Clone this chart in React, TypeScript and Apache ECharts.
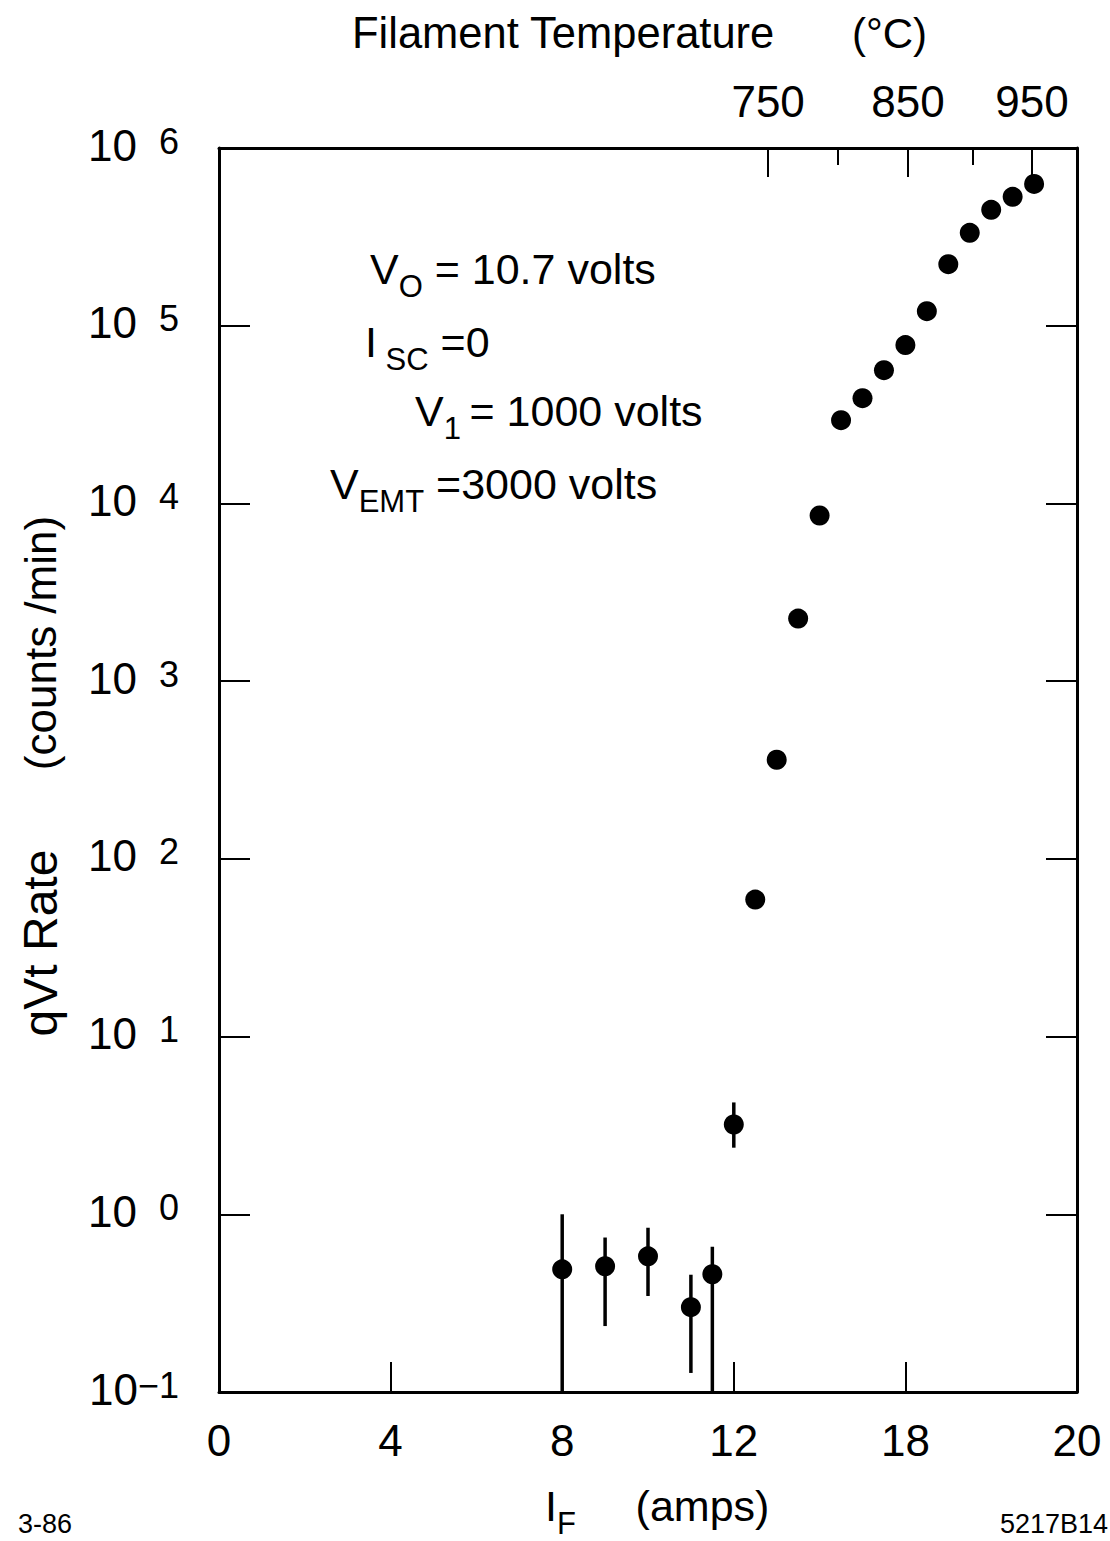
import React, { useEffect, useRef } from 'react';
import * as echarts from 'echarts';

// ---- data ----
const currentAmps = [8, 9, 10, 11, 11.5, 12, 12.5, 13, 13.5, 14, 14.5, 15, 15.5, 16, 16.5, 17, 17.5, 18, 18.5, 19];
const rateCountsPerMin = [0.49, 0.51, 0.58, 0.3, 0.46, 3.2, 59, 361, 2250, 8550, 29400, 39100, 56200, 77800, 120800, 222000, 333000, 449000, 531000, 628000];

const errAmps = [8, 9, 10, 11, 11.5, 12];
const errLow = [0.1, 0.235, 0.347, 0.128, 0.1, 2.37];
const errHigh = [1.0, 0.74, 0.84, 0.457, 0.656, 4.26];

const xTickValues = [0, 4, 8, 12, 16, 20];
const xTickLabels = ['0', '4', '8', '12', '18', '20'];

const tempMajorAmps = [12.8, 16.06, 18.95];
const tempMajorLabels = ['750', '850', '950'];
const tempMinorAmps = [14.43, 17.58];

const FONT = "'Liberation Sans', Arial, sans-serif";
const BLACK = '#000000';

function findIdx(arr: number[], v: number) {
  return arr.findIndex((a) => Math.abs(a - v) < 1e-6);
}

export default function App() {
  const ref = useRef<HTMLDivElement>(null);

  useEffect(() => {
    const chart = echarts.init(ref.current!, null, { renderer: 'svg' });

    const mainTok = { fontSize: 43, fontFamily: FONT, fill: BLACK, lineHeight: 46, verticalAlign: 'top' };
    const subTok = { fontSize: 31, fontFamily: FONT, fill: BLACK, lineHeight: 30, padding: [24, 0, 0, 0], verticalAlign: 'top' };
    const richAnno = { m: mainTok, s: subTok };
    const richXTitle = {
      m: { fontSize: 43, fontFamily: FONT, fill: BLACK, lineHeight: 44, verticalAlign: 'top' },
      s: { fontSize: 31, fontFamily: FONT, fill: BLACK, lineHeight: 26, padding: [24, 0, 0, 0], verticalAlign: 'top' },
    };

    const option: any = {
      animation: false,
      backgroundColor: '#ffffff',
      grid: { left: 219, right: 33, top: 148, bottom: 149, containLabel: false, outerBoundsMode: 'none' },
      xAxis: [
        {
          type: 'value',
          position: 'bottom',
          min: 0,
          max: 20,
          interval: 4,
          axisLine: { show: true, onZero: false, lineStyle: { color: BLACK, width: 3 } },
          axisTick: { show: true, inside: true, length: 30, lineStyle: { color: BLACK, width: 2 } },
          axisLabel: {
            show: true,
            margin: 26,
            color: BLACK,
            fontSize: 44,
            fontFamily: FONT,
            showMinLabel: true,
            showMaxLabel: true,
            formatter: (v: number) => {
              const i = findIdx(xTickValues, v);
              return i >= 0 ? xTickLabels[i] : '';
            },
          },
          splitLine: { show: false },
        },
        {
          type: 'value',
          position: 'top',
          min: 0,
          max: 20,
          axisLine: { show: true, onZero: false, lineStyle: { color: BLACK, width: 3 } },
          axisTick: { show: true, inside: true, length: 29, customValues: tempMajorAmps, lineStyle: { color: BLACK, width: 2 } },
          axisLabel: {
            show: true,
            margin: 25,
            color: BLACK,
            fontSize: 44,
            fontFamily: FONT,
            customValues: tempMajorAmps,
            formatter: (v: number) => {
              const i = findIdx(tempMajorAmps, v);
              return i >= 0 ? tempMajorLabels[i] : '';
            },
          },
          splitLine: { show: false },
        },
        {
          type: 'value',
          position: 'top',
          min: 0,
          max: 20,
          axisLine: { show: false },
          axisTick: { show: true, inside: true, length: 17, customValues: tempMinorAmps, lineStyle: { color: BLACK, width: 2 } },
          axisLabel: { show: false },
          splitLine: { show: false },
        },
      ],
      yAxis: [
        {
          type: 'log',
          logBase: 10,
          min: 0.1,
          max: 1e6,
          position: 'left',
          axisLine: { show: true, onZero: false, lineStyle: { color: BLACK, width: 3 } },
          axisTick: { show: true, inside: true, length: 31, lineStyle: { color: BLACK, width: 2 } },
          axisLabel: {
            show: true,
            margin: 40,
            align: 'right',
            verticalAlign: 'middle',
            showMinLabel: true,
            showMaxLabel: true,
            formatter: (v: number) => {
              const e = Math.round(Math.log10(v));
              if (e < 0) return '{b|10}{n|\u2212' + Math.abs(e) + '}';
              return '{b|10}{e|' + e + '}';
            },
            rich: {
              b: { fontSize: 44, fontFamily: FONT, color: BLACK, lineHeight: 50, verticalAlign: 'top' },
              e: { fontSize: 36, fontFamily: FONT, color: BLACK, lineHeight: 22, verticalAlign: 'top', padding: [0, 0, 0, 22] },
              n: { fontSize: 36, fontFamily: FONT, color: BLACK, lineHeight: 22, verticalAlign: 'top', padding: [0, 0, 0, 0] },
            },
          },
          splitLine: { show: false },
          minorTick: { show: false },
        },
        {
          type: 'log',
          logBase: 10,
          min: 0.1,
          max: 1e6,
          position: 'right',
          axisLine: { show: true, onZero: false, lineStyle: { color: BLACK, width: 3 } },
          axisTick: { show: true, inside: true, length: 31, lineStyle: { color: BLACK, width: 2 } },
          axisLabel: { show: false },
          splitLine: { show: false },
        },
      ],
      series: [
        {
          type: 'custom',
          name: 'error',
          xAxisIndex: 0,
          yAxisIndex: 0,
          z: 1,
          data: errAmps.map((x, i) => [x, errLow[i], errHigh[i]]),
          encode: { x: 0, y: [1, 2] },
          renderItem: (params: any, api: any) => {
            const x = api.value(0);
            const p1 = api.coord([x, api.value(1)]);
            const p2 = api.coord([x, api.value(2)]);
            return {
              type: 'line',
              shape: { x1: p1[0], y1: p1[1], x2: p2[0], y2: p2[1] },
              style: { stroke: BLACK, lineWidth: 3.5 },
            };
          },
        },
        {
          type: 'scatter',
          name: 'qVt rate',
          xAxisIndex: 0,
          yAxisIndex: 0,
          z: 2,
          symbol: 'circle',
          symbolSize: 20,
          itemStyle: { color: BLACK, opacity: 1 },
          data: currentAmps.map((x, i) => [x, rateCountsPerMin[i]]),
        },
      ],
      graphic: [
        {
          type: 'text',
          x: 352,
          y: 33,
          style: { text: 'Filament Temperature', fontSize: 43.5, fontFamily: FONT, fill: BLACK, align: 'left', verticalAlign: 'middle' },
        },
        {
          type: 'text',
          x: 852,
          y: 33,
          style: { text: '(\u00B0C)', fontSize: 42, fontFamily: FONT, fill: BLACK, align: 'left', verticalAlign: 'middle' },
        },
        {
          type: 'text',
          x: 370,
          y: 247,
          style: { text: '{m|V}{s|O}{m| = 10.7 volts}', rich: richAnno, fill: BLACK, fontFamily: FONT, align: 'left', verticalAlign: 'top' },
        },
        {
          type: 'text',
          x: 365,
          y: 320,
          style: { text: '{m|I}{s| SC}{m| =0}', rich: richAnno, fill: BLACK, fontFamily: FONT, align: 'left', verticalAlign: 'top' },
        },
        {
          type: 'text',
          x: 415,
          y: 389,
          style: { text: '{m|V}{s|1 }{m|= 1000 volts}', rich: richAnno, fill: BLACK, fontFamily: FONT, align: 'left', verticalAlign: 'top' },
        },
        {
          type: 'text',
          x: 330,
          y: 462,
          style: { text: '{m|V}{s|EMT}{m| =3000 volts}', rich: richAnno, fill: BLACK, fontFamily: FONT, align: 'left', verticalAlign: 'top' },
        },
        {
          type: 'text',
          x: 40,
          y: 943,
          rotation: Math.PI / 2,
          style: { text: 'qVt Rate', fontSize: 48, fontFamily: FONT, fill: BLACK, align: 'center', verticalAlign: 'middle' },
        },
        {
          type: 'text',
          x: 40,
          y: 643,
          rotation: Math.PI / 2,
          style: { text: '(counts /min)', fontSize: 44, fontFamily: FONT, fill: BLACK, align: 'center', verticalAlign: 'middle' },
        },
        {
          type: 'text',
          x: 545,
          y: 1484,
          style: { text: '{m|I}{s|F}{m|     (amps)}', rich: richXTitle, fill: BLACK, fontFamily: FONT, align: 'left', verticalAlign: 'top' },
        },
        {
          type: 'text',
          x: 18,
          y: 1524,
          style: { text: '3-86', fontSize: 27, fontFamily: FONT, fill: BLACK, align: 'left', verticalAlign: 'middle' },
        },
        {
          type: 'text',
          x: 1108,
          y: 1524,
          style: { text: '5217B14', fontSize: 27, fontFamily: FONT, fill: BLACK, align: 'right', verticalAlign: 'middle' },
        },
      ],
    };

    chart.setOption(option);
    return () => chart.dispose();
  }, []);

  return (
    <div
      ref={ref}
      style={{ position: 'absolute', left: 0, top: 0, width: 1110, height: 1541, background: '#ffffff' }}
    />
  );
}
